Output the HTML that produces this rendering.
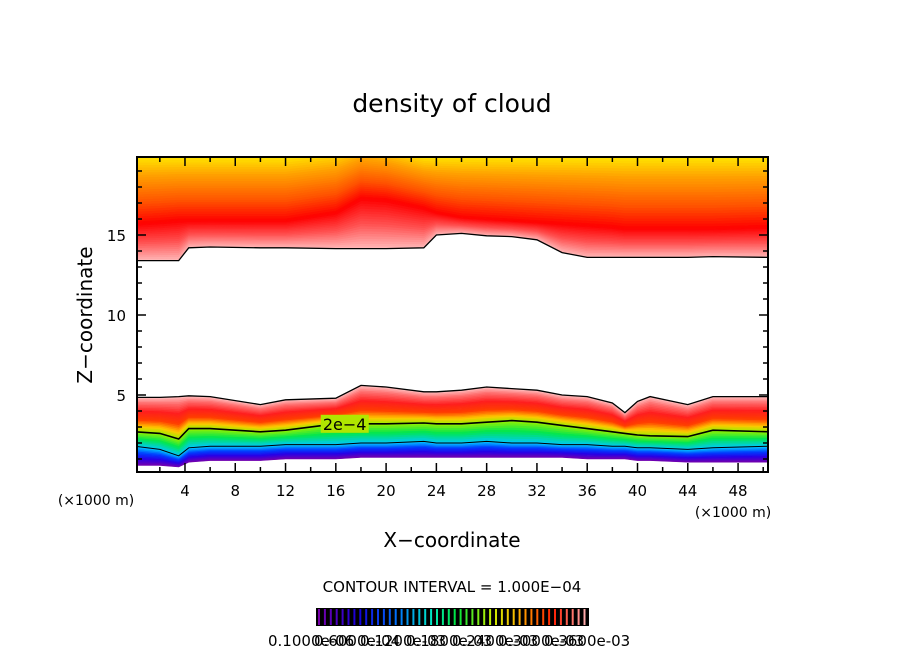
<!DOCTYPE html>
<html><head><meta charset="utf-8"><style>
html,body{margin:0;padding:0;background:#fff;width:904px;height:654px;overflow:hidden}
text{font-family:"DejaVu Sans","Liberation Sans",sans-serif}
</style></head><body>
<svg id="s" width="904" height="654" xmlns="http://www.w3.org/2000/svg">
<text x="452" y="112" font-size="25" text-anchor="middle">density of cloud</text>
<text x="452" y="547" font-size="20" text-anchor="middle">X−coordinate</text>
<text x="0" y="0" font-size="20" text-anchor="middle" transform="translate(92,315) rotate(-90)">Z−coordinate</text>
<text x="96" y="505" font-size="14" text-anchor="middle">(×1000 m)</text>
<text x="733" y="517" font-size="14" text-anchor="middle">(×1000 m)</text>
<text x="452" y="592" font-size="15" text-anchor="middle">CONTOUR INTERVAL = 1.000E−04</text>
<g id="plot"></g>
<g id="axes"></g>
<g id="cbar"></g>
</svg>
<script>
const xs        = [0,2,3.5,4.3,6,10,12,16,18,20,23,24,26,28,30,32,34,36,38,39,40,41,44,46,50.5];
const upperBase = [13.4,13.4,13.4,14.2,14.25,14.2,14.2,14.15,14.15,14.15,14.2,15.0,15.1,14.95,14.9,14.7,13.9,13.6,13.6,13.6,13.6,13.6,13.6,13.65,13.6];
const upperPeak = [15.7,15.8,15.9,15.9,15.9,15.9,15.9,16.4,17.3,17.2,16.7,16.4,16.1,16.0,15.9,15.8,15.7,15.6,15.5,15.4,15.4,15.4,15.4,15.4,15.5];
const upperTop  = [20,20,20,20,20,20,20,20.3,20.8,20.6,20,20,20,20,20,20,20,20,20,20,20,20,20,20,20];
const lowerTop  = [4.85,4.85,4.9,4.95,4.9,4.4,4.7,4.8,5.6,5.5,5.2,5.2,5.3,5.5,5.4,5.3,5.0,4.9,4.5,3.9,4.6,4.9,4.4,4.9,4.9];
const contour2  = [2.7,2.6,2.25,2.9,2.9,2.7,2.8,3.2,3.2,3.2,3.25,3.2,3.2,3.3,3.4,3.3,3.1,2.9,2.7,2.6,2.5,2.45,2.4,2.8,2.7];
const contour1  = [1.8,1.6,1.2,1.7,1.8,1.8,1.9,1.9,2.0,2.0,2.1,2.0,2.0,2.1,2.0,2.0,1.9,1.9,1.8,1.8,1.7,1.7,1.6,1.7,1.8];
const lowerBase = [0.6,0.6,0.5,0.8,0.9,0.9,1.0,1.0,1.1,1.1,1.1,1.1,1.1,1.1,1.1,1.1,1.1,1.0,1.0,1.0,0.9,0.9,0.8,0.8,0.8];
const xTicks = [4,8,12,16,20,24,28,32,36,40,44,48];
const zTicks = [5,10,15];
const cbarLabels = ["0.1000e-06","0.6000e-04","0.1200e-03","0.1800e-03","0.2400e-03","0.3000e-03","0.3600e-03"];

const NS="http://www.w3.org/2000/svg";
const L=137,R=768,T=157,B=472;
const X=x=>134.7+x*12.57, Z=z=>475-z*16;
const plot=document.getElementById('plot'),axes=document.getElementById('axes'),cb=document.getElementById('cbar');
function mk(tag,at,par){const e=document.createElementNS(NS,tag);for(const k in at)e.setAttribute(k,at[k]);par.appendChild(e);return e;}
function lerpC(stops,f){f=Math.max(0,Math.min(1,f));for(let i=1;i<stops.length;i++){if(f<=stops[i][0]){const a=stops[i-1],b=stops[i],t=(f-a[0])/(b[0]-a[0]||1);return 'rgb('+[0,1,2].map(j=>Math.round(a[1][j]+(b[1][j]-a[1][j])*t)).join(',')+')';}}return 'rgb('+stops[stops.length-1][1].join(',')+')';}
const cUp=[[0,[255,185,185]],[0.25,[255,80,80]],[0.5,[255,0,0]],[0.65,[255,80,0]],[0.85,[255,160,0]],[1,[255,235,0]]];
const cLo=[[0,[120,0,170]],[0.12,[40,0,230]],[0.22,[0,60,255]],[0.33,[0,200,255]],[0.42,[0,230,80]],[0.5,[150,240,0]],[0.58,[255,200,0]],[0.68,[255,60,0]],[0.8,[255,30,30]],[0.92,[255,110,110]],[1,[255,190,190]]];
const defs=mk('defs',{},plot);
const cp=mk('clipPath',{id:'cp'},defs);
mk('rect',{x:L,y:T,width:R-L,height:B-T},cp);
const g=mk('g',{'clip-path':'url(#cp)'},plot);
function band(lo,hi,f0,f1,stops,n,name){
  for(let i=0;i<n;i++){
    const a=i/n,b=(i+1)/n;
    const top=xs.map((x,k)=>X(x)+','+Z(lo[k]+(hi[k]-lo[k])*b));
    const bot=xs.map((x,k)=>X(x)+','+Z(lo[k]+(hi[k]-lo[k])*a)).reverse();
    const c=lerpC(stops,f0+(f1-f0)*(a+b)/2);
    const p=mk('polygon',{points:top.concat(bot).join(' '),fill:c,stroke:c,'stroke-width':0.6},g);
    
    
  }
}
band(upperBase,upperPeak,0,0.5,cUp,20,'upper-cloud-band');
band(upperPeak,upperTop,0.5,1,cUp,28,'upper-cloud-band');
band(lowerBase,contour1,0,0.33,cLo,12,'lower-cloud-band');
band(contour1,contour2,0.33,0.5,cLo,10,'lower-cloud-band');
band(contour2,lowerTop,0.5,1,cLo,24,'lower-cloud-band');
function line(arr,w,name){const l=mk('polyline',{points:xs.map((x,k)=>X(x)+','+Z(arr[k])).join(' '),fill:'none',stroke:'#000','stroke-width':w},g);}
line(upperBase,1.3,'contour-upper-base');
line(lowerTop,1.3,'contour-lower-top');
line(contour2,1.6,'contour-2e-4');
line(contour1,1,'contour-1e-4');
const lb=mk('rect',{x:X(14.8),y:Z(3.2)-9,width:48,height:18,fill:lerpC(cLo,0.52)},g);
const lt=mk('text',{x:X(16.7),y:Z(3.2)+6,'font-size':16,'text-anchor':'middle'},g);lt.textContent='2e−4';


// axes
mk('rect',{x:L,y:T,width:R-L,height:B-T,fill:'none',stroke:'#000','stroke-width':2},axes);
for(let x=2;x<=50;x+=2){const maj=x%4==0,len=maj?9:5;
  mk('line',{x1:X(x),x2:X(x),y1:B,y2:B-len,stroke:'#000','stroke-width':1.5},axes);
  mk('line',{x1:X(x),x2:X(x),y1:T,y2:T+len,stroke:'#000','stroke-width':1.5},axes);}
for(let z=1;z<=19;z++){const maj=z%5==0,len=maj?9:5;
  mk('line',{x1:L,x2:L+len,y1:Z(z),y2:Z(z),stroke:'#000','stroke-width':1.5},axes);
  mk('line',{x1:R,x2:R-len,y1:Z(z),y2:Z(z),stroke:'#000','stroke-width':1.5},axes);}
xTicks.forEach(v=>{const t=mk('text',{x:X(v),y:496,'font-size':15,'text-anchor':'middle'},axes);t.textContent=v;
  
  });
zTicks.forEach(v=>{const t=mk('text',{x:126,y:Z(v)+6,'font-size':15,'text-anchor':'end'},axes);t.textContent=v;
  
  });
// colorbar
mk('rect',{x:316,y:608,width:273,height:18,fill:'#000'},cb);
const cbStops=[[0,[120,0,170]],[0.15,[20,0,220]],[0.3,[0,120,255]],[0.42,[0,230,200]],[0.52,[0,230,60]],[0.65,[200,240,0]],[0.75,[255,180,0]],[0.88,[255,30,0]],[1,[255,170,170]]];
for(let i=0;i<46;i++){mk('rect',{x:318+i*5.9,y:609,width:2,height:16,fill:lerpC(cbStops,i/45)},cb);}
cbarLabels.forEach((s,i)=>{const t=mk('text',{x:268+i*46,y:646,'font-size':15},cb);t.textContent=s;
  
  });
</script>
</body></html>
